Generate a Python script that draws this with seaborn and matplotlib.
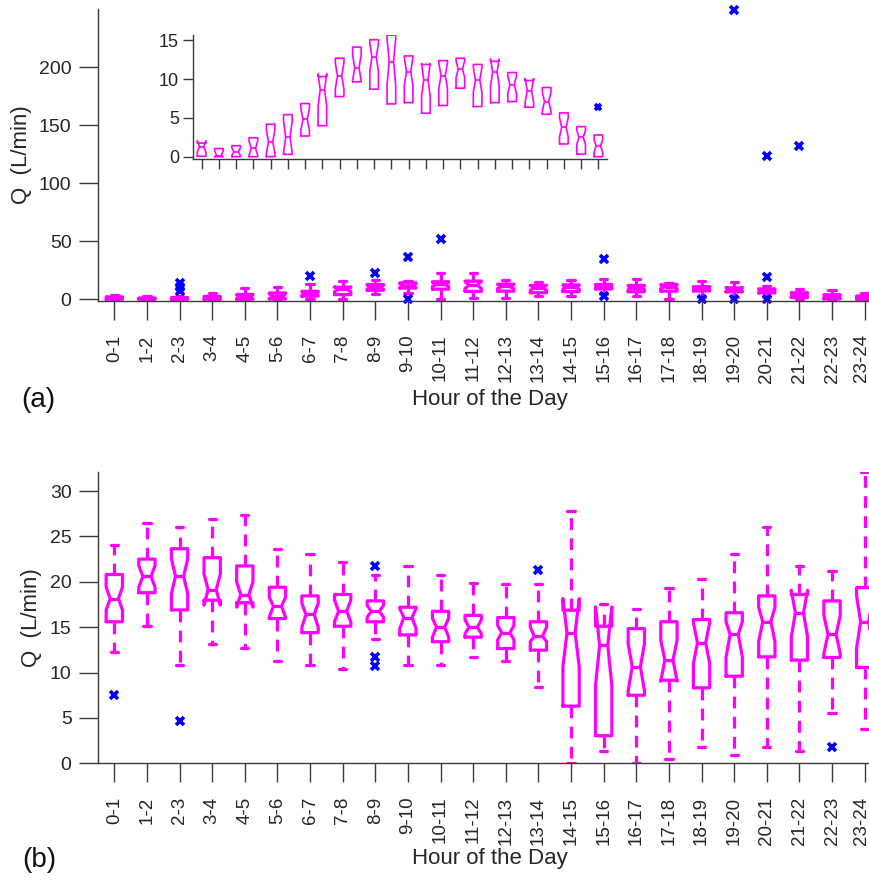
import matplotlib
matplotlib.use('Agg')
import matplotlib.pyplot as plt
import matplotlib.transforms as mtransforms
import seaborn as sns

# 横轴类别
hours = ['0-1', '1-2', '2-3', '3-4', '4-5', '5-6', '6-7', '7-8', '8-9', '9-10',
         '10-11', '11-12', '12-13', '13-14', '14-15', '15-16', '16-17', '17-18',
         '18-19', '19-20', '20-21', '21-22', '22-23', '23-24']

# (a) 箱线图统计量
q1_a = [0.05, 0.0, 0.0, 0.0, 0.0, 0.3, 2.67, 4.0, 7.76, 9.66, 8.7, 6.81,
        6.98, 5.6, 6.6, 8.84, 6.47, 6.98, 7.1, 6.38, 5.47, 1.64, 0.34, 0.0]
med_a = [1.3, 0.1, 0.65, 1.08, 1.94, 2.5, 4.83, 8.62, 10.43, 11.42, 12.84, 12.28,
         10.99, 9.91, 10.47, 11.3, 9.91, 10.9, 9.27, 8.53, 7.11, 3.79, 2.5, 1.38]
q3_a = [1.75, 1.05, 1.42, 2.45, 4.18, 5.43, 6.85, 10.34, 12.7, 14.14, 15.09, 15.69,
        13.0, 11.9, 12.4, 12.7, 11.9, 12.3, 10.86, 9.83, 8.92, 5.65, 3.88, 2.8]
cilo_a = [0.55, 0.0, 0.15, 0.2, 0.4, 0.5, 3.4, 6.55, 8.7, 9.8, 11.0, 9.3,
          9.2, 7.8, 8.8, 10.2, 8.3, 9.2, 8.2, 6.97, 5.9, 2.6, 1.6, 0.55]
cihi_a = [2.05, 0.8, 1.15, 2.0, 3.5, 4.6, 6.2, 10.69, 12.1, 13.2, 14.6, 15.2,
          12.8, 12.0, 12.1, 12.4, 11.5, 12.6, 10.4, 10.09, 8.3, 5.0, 3.4, 2.2]
whislo_a = [0, 0, 0, 0, 0, 0, 0.3, 0.3, 4.9, 5.7, 0.3, 0.9,
            1.4, 2.6, 2.6, 4.3, 2.9, 0, 2.0, 2.0, 2.0, 0, 0, 0]
whishi_a = [3.3, 2.9, 2.6, 5.5, 9.8, 10.6, 13.5, 15.5, 16.4, 15.5, 22.7, 22.7,
            17.0, 14.7, 16.4, 17.2, 17.5, 14.1, 15.5, 14.7, 11.0, 8.6, 7.8, 5.5]
fliers_a = [[], [], [7.2, 10.5, 14.0], [], [], [], [20.1], [], [23.0], [0.3, 36.8],
            [51.7], [], [], [], [], [2.9, 34.5], [], [], [0.0], [0.0, 249.5],
            [0.0, 19.3, 123.5], [132.0], [], []]
fliers_inset = [[]] * 23 + [[6.4]]

# (b) 箱线图统计量
q1_b = [15.6, 18.8, 16.9, 17.97, 17.7, 15.95, 14.4, 15.1, 15.6, 14.15, 13.4, 13.9,
        12.65, 12.47, 6.3, 3.04, 7.5, 9.15, 8.32, 9.6, 11.73, 11.37, 11.66, 10.56]
med_b = [18.15, 20.6, 20.6, 19.14, 18.6, 17.3, 16.4, 16.75, 16.75, 16.06, 15.0, 15.0,
         14.4, 14.0, 14.37, 13.0, 10.63, 11.37, 13.27, 14.2, 15.6, 16.6, 14.2, 15.6]
q3_b = [20.8, 22.5, 23.65, 22.66, 21.75, 19.4, 18.45, 18.6, 17.9, 17.2, 16.75, 16.3,
        16.06, 15.6, 16.87, 15.1, 14.85, 15.6, 15.84, 16.6, 18.45, 18.6, 17.9, 19.36]
cilo_b = [16.9, 19.4, 18.7, 17.42, 17.2, 16.1, 15.0, 15.6, 16.1, 14.85, 13.9, 14.3,
          13.6, 13.4, 10.63, 8.6, 8.0, 9.05, 11.0, 11.7, 13.4, 13.9, 12.1, 12.65]
cihi_b = [19.4, 21.8, 22.55, 20.86, 20.0, 18.3, 17.6, 18.0, 17.4, 17.05, 16.0, 15.8,
          15.2, 15.0, 18.15, 17.23, 13.2, 13.57, 15.5, 15.6, 17.2, 19.07, 16.3, 18.5]
whislo_b = [12.25, 15.1, 10.8, 13.2, 12.7, 11.3, 10.8, 10.35, 13.7, 10.8, 10.8, 11.7,
            11.3, 8.43, 0.0, 1.4, 0.0, 0.44, 1.83, 0.92, 1.83, 1.4, 5.57, 3.74]
whishi_b = [24.1, 26.5, 26.0, 26.9, 27.4, 23.65, 23.1, 22.2, 20.75, 21.7, 20.75, 19.9,
            19.8, 19.8, 27.8, 17.5, 17.0, 19.36, 20.35, 23.1, 26.0, 21.7, 21.2, 32.1]
fliers_b = [[7.5], [], [4.66], [], [], [], [], [], [10.75, 11.7, 21.7], [], [], [],
            [], [21.27], [], [], [], [], [], [], [], [], [1.83], []]

MAGENTA = '#ff00ff'
BLUE = '#0000ff'
GRAY = '#3a3a3a'


def box_stats(q1, med, q3, cilo, cihi, lo, hi, fl):
    return [dict(q1=a, med=b, q3=c, cilo=d, cihi=e, whislo=f, whishi=g, fliers=h)
            for a, b, c, d, e, f, g, h in zip(q1, med, q3, cilo, cihi, lo, hi, fl)]


def draw_boxes(ax, stats, lw, whisker_ls='-', whiskers=True, ms=5.5):
    pos = list(range(1, len(hours) + 1))
    art = ax.bxp(stats, positions=pos, widths=0.5, capwidths=0.22, shownotches=True,
                 showcaps=whiskers, manage_ticks=False,
                 boxprops=dict(color=MAGENTA, lw=lw),
                 medianprops=dict(color=MAGENTA, lw=lw),
                 whiskerprops=dict(color=MAGENTA, lw=lw,
                                   linestyle=whisker_ls if whiskers else 'none'),
                 capprops=dict(color=MAGENTA, lw=lw),
                 flierprops=dict(marker='x', markeredgecolor=BLUE, markersize=ms,
                                 markeredgewidth=2.6, linestyle='none'))
    for f in art['fliers']:
        f.set_clip_on(False)
    return art


sns.set_theme(style='ticks')
plt.rcParams['font.family'] = ['Liberation Sans', 'DejaVu Sans']
plt.rcParams['lines.scale_dashes'] = False
plt.rcParams['axes.edgecolor'] = GRAY
plt.rcParams['axes.linewidth'] = 1.0

fig = plt.figure(figsize=(8.7, 8.8), dpi=100)
ax_a = fig.add_axes([98 / 870, 1 - 301 / 880, 783 / 870, 292 / 880])
ax_b = fig.add_axes([98 / 870, 1 - 763.3 / 880, 783 / 870, 291.3 / 880])
ax_in = fig.add_axes([193 / 870, 1 - 159 / 880, 414 / 870, 124 / 880])

# (a) 主图
draw_boxes(ax_a, box_stats(q1_a, med_a, q3_a, cilo_a, cihi_a, whislo_a, whishi_a, fliers_a), lw=2.3)
ax_a.set_ylim(-1.5, 250)
ax_a.set_yticks([0, 50, 100, 150, 200])

# (a) 局部放大图
draw_boxes(ax_in, box_stats(q1_a, med_a, q3_a, cilo_a, cihi_a, whislo_a, whishi_a, fliers_inset),
           lw=1.2, whiskers=False, ms=5)
ax_in.set_ylim(-0.3, 15.7)
ax_in.set_yticks([0, 5, 10, 15])
ax_in.set_xlim(0.5, 24.5)
ax_in.set_xticks(range(1, 25))
ax_in.set_xticklabels([])
ax_in.tick_params(direction='out', length=7, width=1, colors=GRAY, labelsize=13,
                  labelcolor='#262626', pad=3)
ax_in.patch.set_alpha(0)

# (b)
draw_boxes(ax_b, box_stats(q1_b, med_b, q3_b, cilo_b, cihi_b, whislo_b, whishi_b, fliers_b),
           lw=2.3, whisker_ls=(0, (8.5, 6)))
ax_b.set_ylim(0, 32.1)
ax_b.set_yticks(range(0, 31, 5))

for ax in (ax_a, ax_b):
    ax.set_xlim(0.5, 24.5)
    ax.set_xticks(range(1, 25))
    ax.set_xticklabels(hours, rotation=90)
    ax.tick_params(direction='out', length=14, width=1, colors=GRAY, labelsize=14,
                   labelcolor='#262626')
    ax.tick_params(axis='x', pad=10, labelsize=13.5)
    ax.tick_params(axis='y', pad=5)
    ax.set_xlabel('Hour of the Day', fontsize=16, color='#262626')
    ax.set_ylabel('Q  (L/min)', fontsize=16, color='#262626')
    # 最后一个刻度标签贴着图边，稍微左移以免被裁掉
    last = ax.get_xticklabels()[-1]
    last.set_transform(last.get_transform() +
                       mtransforms.ScaledTranslation(-3 / 100, 0, fig.dpi_scale_trans))

ax_a.xaxis.set_label_coords(0.5, -0.302)
ax_b.xaxis.set_label_coords(0.5, -0.292)
ax_a.yaxis.set_label_coords(-0.084, 0.5)
ax_b.yaxis.set_label_coords(-0.0715, 0.5)

sns.despine(ax=ax_a)
sns.despine(ax=ax_b)
sns.despine(ax=ax_in)

fig.text(38 / 870, 1 - 400 / 880, '(a)', fontsize=20, ha='center', va='center', color='#111111')
fig.text(39 / 870, 1 - 860 / 880, '(b)', fontsize=20, ha='center', va='center', color='#111111')

fig.savefig('out.png', dpi=100)
